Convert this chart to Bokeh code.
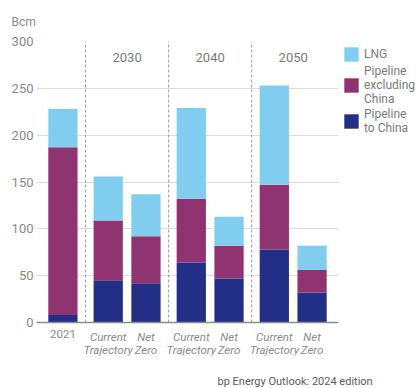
from bokeh.plotting import figure
from bokeh.models import (FactorRange, Range1d, FixedTicker, Legend, LegendItem,
                          Span, Title, ColumnDataSource)
from bokeh.transform import dodge
from bokeh.core.properties import value
from bokeh.embed import file_html
from bokeh.resources import INLINE

# ---------------- data ----------------
groups = ["2021", "2030", "2030", "2040", "2040", "2050", "2050"]
scenarios = ["2021", "Current Trajectory", "Net Zero", "Current Trajectory", "Net Zero",
             "Current Trajectory", "Net Zero"]
x_labels = ["2021", "Current\nTrajectory", "Net\nZero", "Current\nTrajectory", "Net\nZero",
            "Current\nTrajectory", "Net\nZero"]
pipeline_to_china = [8, 45, 42, 64, 47, 78, 32]
pipeline_excl_china = [179, 64, 50, 68, 35, 69, 24]
lng = [41, 47, 45, 97, 31, 106, 26]
series = ["pipe_china", "pipe_excl", "lng"]
series_labels = ["Pipeline\nto China", "Pipeline\nexcluding\nChina", "LNG"]
colors = ["#232f86", "#8f3470", "#80cdf0"]
y_ticks = [0, 50, 100, 150, 200, 250, 300]
group_names = ["2030", "2040", "2050"]
unit_label = "Bcm"
source_note = "bp Energy Outlook: 2024 edition"

factors = list(zip(groups, scenarios))
GROUP_PAD = 0.2

src = ColumnDataSource(dict(x=factors, pipe_china=pipeline_to_china,
                            pipe_excl=pipeline_excl_china, lng=lng,
                            label=x_labels,
                            label_style=["normal"] + ["italic"] * (len(factors) - 1)))

x_range = FactorRange(*factors, factor_padding=0.0, group_padding=GROUP_PAD,
                      range_padding=0.2, range_padding_units="absolute")
p = figure(frame_width=302, frame_height=314, output_backend="svg", toolbar_location=None,
           x_range=x_range, y_range=Range1d(-35.2, 300),
           min_border_left=36, min_border_top=40, min_border_bottom=34, min_border_right=0)
p.outline_line_color = None
p.background_fill_color = "white"
p.border_fill_color = "white"

renderers = p.vbar_stack(series, x="x", width=0.775, source=src, color=colors,
                         line_color=None)

# axes
p.xaxis.visible = False
p.xgrid.grid_line_color = None
p.yaxis.ticker = FixedTicker(ticks=y_ticks)
p.yaxis.axis_line_color = None
p.yaxis.major_tick_line_color = None
p.yaxis.minor_tick_line_color = None
p.yaxis.major_tick_out = 0
p.yaxis.major_tick_in = 0
p.yaxis.major_label_text_font = "Roboto"
p.yaxis.major_label_text_font_size = "13px"
p.yaxis.major_label_text_color = "#8a8a8a"
p.yaxis.major_label_standoff = 3
p.ygrid.grid_line_color = "#dcdcdc"
p.ygrid.grid_line_width = 1

# baseline
p.add_layout(Span(location=0, dimension="width", line_color="#8c8c8c", line_width=1.5))

# group separators (between groups), dodged from each group's first bar
sep_src = ColumnDataSource(dict(x=[(g, "Current Trajectory") for g in group_names],
                                y0=[0] * len(group_names),
                                y1=[y_ticks[-1]] * len(group_names)))
sep_off = -(0.5 + GROUP_PAD / 2)
p.segment(x0=dodge("x", sep_off, range=x_range), x1=dodge("x", sep_off, range=x_range),
          y0="y0", y1="y1", source=sep_src,
          line_color="#9a9a9a", line_width=1, line_dash="3 2")

# group labels at top
p.text(x=group_names, y=[y_ticks[-1]] * len(group_names), text=group_names,
       text_font=value("Roboto"), text_font_size="13px", text_color="#7a7a7a",
       text_align="center", text_baseline="top", y_offset=11)

# category labels under bars
p.text(x="x", y=0, text="label", source=src, text_font=value("Roboto"),
       text_font_size="11.5px", text_font_style="label_style", text_color="#8a8a8a",
       text_align="center", text_baseline="top", y_offset=7, text_line_height=0.95)

# unit label (above) and source note (below)
p.add_layout(Title(text=unit_label, align="left", offset=-25, standoff=25,
                   text_font="Roboto", text_font_size="12px", text_font_style="normal",
                   text_color="#8a8a8a"), "above")
p.add_layout(Title(text=source_note, align="left", offset=181, standoff=35,
                   text_font="Roboto", text_font_size="11px", text_font_style="normal",
                   text_color="#5a5a5a"), "below")

# legend
items = [LegendItem(label=series_labels[i], renderers=[renderers[i]]) for i in (2, 1, 0)]
legend = Legend(items=items, location="top_left", margin=4, padding=1, spacing=1,
                glyph_width=18, glyph_height=18, label_height=18, label_standoff=4,
                label_text_font="Roboto", label_text_font_size="12px",
                label_text_color="#7a7a7a", label_text_line_height=1.1,
                border_line_color=None, background_fill_alpha=0)
p.add_layout(legend, "right")

open("out.html", "w").write(file_html(p, INLINE))
